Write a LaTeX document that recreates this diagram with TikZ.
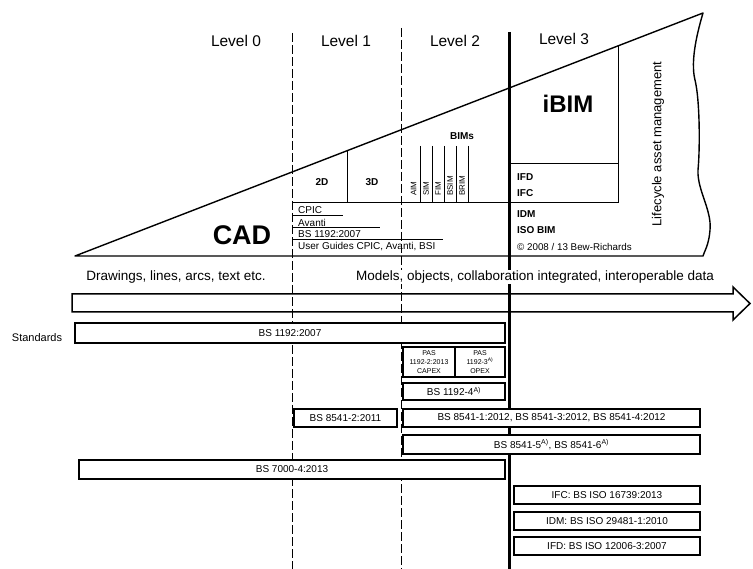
\documentclass[tikz,border=0pt]{standalone}
\usepackage{fontspec}
\setmainfont{Liberation Sans}
\begin{document}
\begin{tikzpicture}[x=1pt,y=-1pt,
  edge/.style={line width=1.4pt, line join=round},
  thin/.style={line width=1pt},
  dashline/.style={line width=1pt, dash pattern=on 9pt off 3pt},
  bar/.style={draw, fill=white, line width=1.3pt, inner sep=0pt, font=\fontsize{10}{11}\selectfont},
  pas/.style={bar, align=center, font=\fontsize{7}{8.6}\selectfont},
  lvl/.style={font=\fontsize{15.5}{16}\selectfont},
  lab/.style={anchor=west, inner sep=0pt, font=\fontsize{10}{11}\selectfont},
  labb/.style={anchor=west, inner sep=0pt, font=\bfseries\fontsize{10}{11}\selectfont},
  rot/.style={rotate=90, anchor=west, inner sep=0pt, font=\fontsize{8}{8}\selectfont},
  row/.style={fill=white, inner sep=1pt, font=\fontsize{13.5}{14}\selectfont},
]
\useasboundingbox (0,0) rectangle (753,569);

% wedge
\draw[edge] (75,256) coordinate (apex) -- (703,13) coordinate (topr)
  .. controls (698,30) and (690,60) .. (695,80)
  .. controls (700,100) and (700,150) .. (698,170)
  .. controls (697,190) and (712,210) .. (710,230)
  .. controls (709,245) and (704,252) .. (703,256) coordinate (botr) -- cycle;

% inner lines
\draw[thin] (292,203) -- (618,203);
\draw[thin] (347,150.8) -- (347,203);
\draw[thin] (618,45.9) -- (618,203);
\draw[thin] (509,164) -- (618,164);
\foreach \x in {420,432,444,456,468} \draw[line width=0.8pt] (\x,146) -- (\x,203);
\draw[thin] (292,216) -- (343,216);
\draw[thin] (292,228) -- (380,228);
\draw[thin] (292,240) -- (443,240);

% level dividers
\draw[dashline] (292,33) -- (292,569);
\draw[dashline] (401,28) -- (401,569);
\draw[line width=3pt] (509,32) -- (509,569);

% big arrow
\draw[line width=1.5pt, line join=miter] (72,294) coordinate (arrs) -- (733,294) -- (733,287) -- (750,303.5) coordinate (arrtip) -- (733,320) -- (733,312) -- (72,312) -- cycle;

% level labels
\node[lvl] (l0) at (236,41) {Level 0};
\node[lvl] (l1) at (346,41) {Level 1};
\node[lvl] (l2) at (455,41) {Level 2};
\node[lvl] (l3) at (564,39) {Level 3};

% wedge contents
\node[font=\bfseries\fontsize{27}{29}\selectfont] (cad) at (242,235) {CAD};
\node[font=\bfseries\fontsize{24}{26}\selectfont] (ibim) at (568,104) {iBIM};
\node[font=\bfseries\fontsize{10}{11}\selectfont] (d2) at (322,182) {2D};
\node[font=\bfseries\fontsize{10}{11}\selectfont] (d3) at (372,182) {3D};
\node[font=\bfseries\fontsize{10}{11}\selectfont] (bims) at (462,136) {BIMs};
\node[rot] (aim) at (413.5,196) {AIM};
\node[rot] (sim) at (426,196) {SIM};
\node[rot] (fim) at (438,196) {FIM};
\node[rot] (bsim) at (450,196) {BSIM};
\node[rot] (brim) at (462,196) {BRIM};

\node[lab] (cpic) at (298,210.5) {CPIC};
\node[lab] (avanti) at (298,222.5) {Avanti};
\node[lab] (bs1192l) at (298,234.5) {BS 1192:2007};
\node[lab] (ug) at (298,247) {User Guides CPIC, Avanti, BSI};

\node[labb] (ifdl) at (517,177) {IFD};
\node[labb] (ifcl) at (517,193) {IFC};
\node[labb] (idml) at (517,214) {IDM};
\node[labb] (isobim) at (517,230) {ISO BIM};
\node[anchor=west, inner sep=0pt, font=\fontsize{9.8}{10}\selectfont] (copy) at (517,247) {\textcopyright{} 2008 / 13 Bew-Richards};

\node[rotate=90, font=\fontsize{13}{14}\selectfont] (lam) at (658,144) {Lifecycle asset management};

% row texts
\node[row] (draw0) at (176,277) {Drawings, lines, arcs, text etc.};
\node[row] (models) at (535,277) {Models, objects, collaboration integrated, interoperable data};

\node[font=\fontsize{11}{12}\selectfont] (std) at (37,338) {Standards};

% standards bars
\node[bar, minimum width=430pt, minimum height=20pt] (bs1192) at (290,333) {BS 1192:2007};
\node[pas, minimum width=52pt, minimum height=30pt] (pas2) at (429,362) {PAS\\1192-2:2013\\CAPEX};
\node[pas, minimum width=50pt, minimum height=30pt] (pas3) at (480,362) {PAS\\1192-3\textsuperscript{A)}\\OPEX};
\node[bar, minimum width=102pt, minimum height=17pt] (bs11924) at (454,391.5) {BS 1192-4\textsuperscript{A)}};
\node[bar, minimum width=103pt, minimum height=18pt] (bs85412) at (345.5,418) {BS 8541-2:2011};
\node[bar, minimum width=297pt, minimum height=18pt] (bs8541a) at (551.5,418) {BS 8541-1:2012, BS 8541-3:2012, BS 8541-4:2012};
\node[bar, minimum width=297pt, minimum height=19pt] (bs8541b) at (551.5,444.5) {BS 8541-5\textsuperscript{A)}, BS 8541-6\textsuperscript{A)}};
\node[bar, minimum width=426pt, minimum height=19pt] (bs7000) at (292,469.5) {BS 7000-4:2013};
\node[bar, minimum width=186pt, minimum height=18pt] (ifc) at (607,495) {IFC: BS ISO 16739:2013};
\node[bar, minimum width=186pt, minimum height=18pt] (idm) at (607,521) {IDM: BS ISO 29481-1:2010};
\node[bar, minimum width=186pt, minimum height=18pt] (ifd) at (607,546) {IFD: BS ISO 12006-3:2007};
\end{tikzpicture}
\end{document}
